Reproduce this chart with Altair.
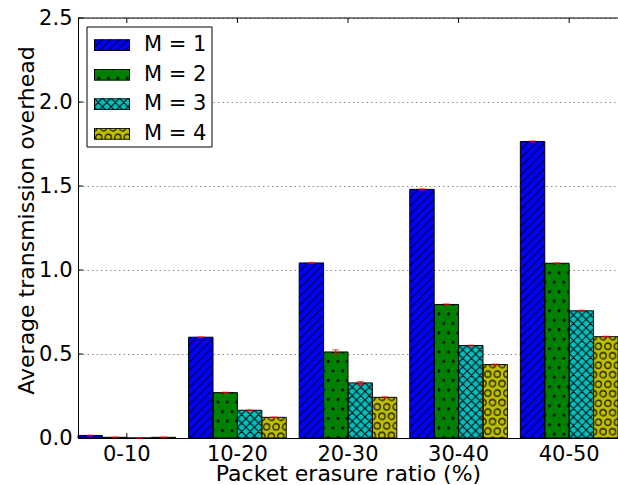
import base64

import altair as alt
import pandas as pd

# ---- data -------------------------------------------------------------
groups = ["0-10", "10-20", "20-30", "30-40", "40-50"]
series = ["M = 1", "M = 2", "M = 3", "M = 4"]

m1 = [0.015, 0.600, 1.042, 1.480, 1.765]
m2 = [0.004, 0.270, 0.512, 0.795, 1.040]
m3 = [0.000, 0.165, 0.328, 0.550, 0.757]
m4 = [0.004, 0.123, 0.242, 0.437, 0.603]

err1 = [0.002, 0.002, 0.003, 0.003, 0.003]
err2 = [0.002, 0.003, 0.013, 0.003, 0.003]
err3 = [0.000, 0.002, 0.009, 0.003, 0.004]
err4 = [0.002, 0.002, 0.003, 0.003, 0.003]

y_ticks = [0.0, 0.5, 1.0, 1.5, 2.0, 2.5]

values = [m1, m2, m3, m4]
errors = [err1, err2, err3, err4]

rows = []
for s, vals, errs in zip(series, values, errors):
    for g, v, e in zip(groups, vals, errs):
        rows.append({"group": g, "series": s, "value": v,
                     "lo": v - e, "hi": v + e})
df = pd.DataFrame(rows)

# ---- styling ----------------------------------------------------------
W, H = 540, 420
FONT = "DejaVu Sans"
GROUP_PAD = 0.117
colors = {"M = 1": "#0000ff", "M = 2": "#008000",
          "M = 3": "#00bfbf", "M = 4": "#bfbf00"}
hatches = {"M = 1": "/", "M = 2": ".", "M = 3": "x", "M = 4": "o"}
BAR_W = W / (len(groups) - GROUP_PAD) * (1 - GROUP_PAD) / len(series)
P_LINE = 8.5   # hatch period for line hatches, px
P_DOT = 9.5    # hatch period for dot / circle hatches, px


def hatch_tile(kind):
    if kind in ("/", "x"):
        P = P_LINE
        q = P / 4
        d = (f"M0,{P} L{P},0 M{-q},{q} L{q},{-q} "
             f"M{P - q},{P + q} L{P + q},{P - q}")
        if kind == "x":
            d += (f" M0,0 L{P},{P} M{-q},{P - q} L{q},{P + q} "
                  f"M{P - q},{-q} L{P + q},{q}")
        return P, P, f'<path d="{d}" stroke="#000" stroke-width="1"/>'
    P = P_DOT
    pts = [(0, 0), (P, 0), (0, 2 * P), (P, 2 * P), (P / 2, P)]
    if kind == ".":
        circ = "".join(f'<circle cx="{x}" cy="{y}" r="1.4" fill="#000"/>'
                       for x, y in pts)
        return P, 2 * P, circ
    circ = "".join(f'<circle cx="{x}" cy="{y}" r="3.1" fill="none" '
                   f'stroke="#000" stroke-width="1.1"/>' for x, y in pts)
    return P, 2 * P, circ


def hatch_url(kind, w, h, fill=None, border=False):
    tw, th, tile = hatch_tile(kind)
    bg = f'<rect width="{w}" height="{h}" fill="{fill}"/>' if fill else ""
    edge = (f'<rect x="0.5" y="0.5" width="{w - 1}" height="{h - 1}" '
            f'fill="none" stroke="#000" stroke-width="1"/>') if border else ""
    svg = (f'<svg xmlns="http://www.w3.org/2000/svg" width="{w}" height="{h}">'
           f'<defs><pattern id="p" patternUnits="userSpaceOnUse" '
           f'width="{tw}" height="{th}">{tile}</pattern></defs>'
           f'{bg}<rect width="{w}" height="{h}" fill="url(#p)"/>{edge}</svg>')
    return "data:image/svg+xml;base64," + base64.b64encode(svg.encode()).decode()


x_enc = alt.X("group:N", sort=groups,
              scale=alt.Scale(paddingInner=GROUP_PAD, paddingOuter=0),
              axis=alt.Axis(title="Packet erasure ratio (%)", labelAngle=0,
                            ticks=False, labelPadding=5,
                            titleBaseline="alphabetic", titleY=42))
xo_enc = alt.XOffset("series:N", sort=series,
                     scale=alt.Scale(paddingInner=0, paddingOuter=0))
y_enc = alt.Y("value:Q", scale=alt.Scale(domain=[0, 2.5], nice=False),
              axis=alt.Axis(title="Average transmission overhead",
                            values=y_ticks, format=".1f", ticks=False,
                            labelPadding=6, grid=True,
                            titleBaseline="alphabetic", titleX=-45,
                            titleY=202, titleAngle=-90))

base = alt.Chart(df)

bars = base.mark_bar(stroke=None, opacity=1).encode(
    x=x_enc, xOffset=xo_enc, y=y_enc,
    color=alt.Color("series:N", sort=series,
                    scale=alt.Scale(domain=series,
                                    range=[colors[s] for s in series]),
                    legend=None),
)

hatch_layers = []
for s in series:
    hatch_layers.append(
        base.transform_filter(alt.datum.series == s)
        .mark_image(width=BAR_W, height=H, align="center", baseline="top",
                    aspect=False, clip=True)
        .encode(x=x_enc, xOffset=xo_enc, y=y_enc,
                url=alt.value(hatch_url(hatches[s], round(BAR_W, 2), H)))
    )

outlines = base.mark_bar(fill=None, stroke="black", strokeWidth=1,
                         opacity=1).encode(x=x_enc, xOffset=xo_enc, y=y_enc)

err_rule = base.mark_rule(color="red", strokeWidth=1).encode(
    x=x_enc, xOffset=xo_enc, y="lo:Q", y2="hi:Q")
err_cap_hi = base.mark_tick(color="red", thickness=1, size=7,
                            orient="horizontal").encode(
    x=x_enc, xOffset=xo_enc, y="hi:Q")
err_cap_lo = base.mark_tick(color="red", thickness=1, size=7,
                            orient="horizontal").encode(
    x=x_enc, xOffset=xo_enc, y="lo:Q")

# inward tick marks and top spine
tick_df = pd.DataFrame({"value": y_ticks})
ytick_marks = alt.Chart(tick_df).mark_rule(color="black").encode(
    y=alt.Y("value:Q"), x=alt.value(0), x2=alt.value(5))
grp_df = pd.DataFrame({"group": groups})
xtick_bottom = alt.Chart(grp_df).mark_rule(color="black").encode(
    x=alt.X("group:N", sort=groups), y=alt.value(H - 5), y2=alt.value(H))
xtick_top = alt.Chart(grp_df).mark_rule(color="black").encode(
    x=alt.X("group:N", sort=groups), y=alt.value(0), y2=alt.value(5))
one = pd.DataFrame({"k": [0]})
top_spine = alt.Chart(one).mark_rule(color="black", strokeWidth=1).encode(
    x=alt.value(0), x2=alt.value(W), y=alt.value(0))

# legend box
legend_layers = [
    alt.Chart(one).mark_rect(fill="white", stroke="black", strokeWidth=1)
    .encode(x=alt.value(9), x2=alt.value(134),
            y=alt.value(9), y2=alt.value(129))
]
row_y = [27.2, 56.7, 86.2, 115.8]
for s, ry in zip(series, row_y):
    lab = pd.DataFrame({"label": [s]})
    legend_layers.append(
        alt.Chart(lab).mark_image(width=36, height=12, align="center",
                                  baseline="middle", aspect=False)
        .encode(x=alt.value(34), y=alt.value(ry),
                url=alt.value(hatch_url(hatches[s], 36, 12,
                                        fill=colors[s], border=True)))
    )
    legend_layers.append(
        alt.Chart(lab).mark_text(align="left", baseline="middle",
                                 font=FONT, fontSize=21, color="black")
        .encode(x=alt.value(66), y=alt.value(ry), text="label:N")
    )

chart = alt.layer(
    bars, *hatch_layers, outlines, err_rule, err_cap_hi, err_cap_lo,
    ytick_marks, xtick_bottom, xtick_top, top_spine, *legend_layers,
).properties(
    width=W, height=H,
    autosize=alt.AutoSizeParams(type="none"),
    padding={"left": 78, "top": 18, "right": 0, "bottom": 47},
).configure_view(stroke=None).configure_axis(
    labelFont=FONT, titleFont=FONT, labelFontSize=21, titleFontSize=22,
    labelColor="black", titleColor="black", titleFontWeight="normal",
    domainColor="black", domainWidth=1,
    gridColor="#8c8c8c", gridDash=[1.5, 3], gridWidth=1,
)

chart.save("out.html", embed_options={"renderer": "svg", "actions": False})
